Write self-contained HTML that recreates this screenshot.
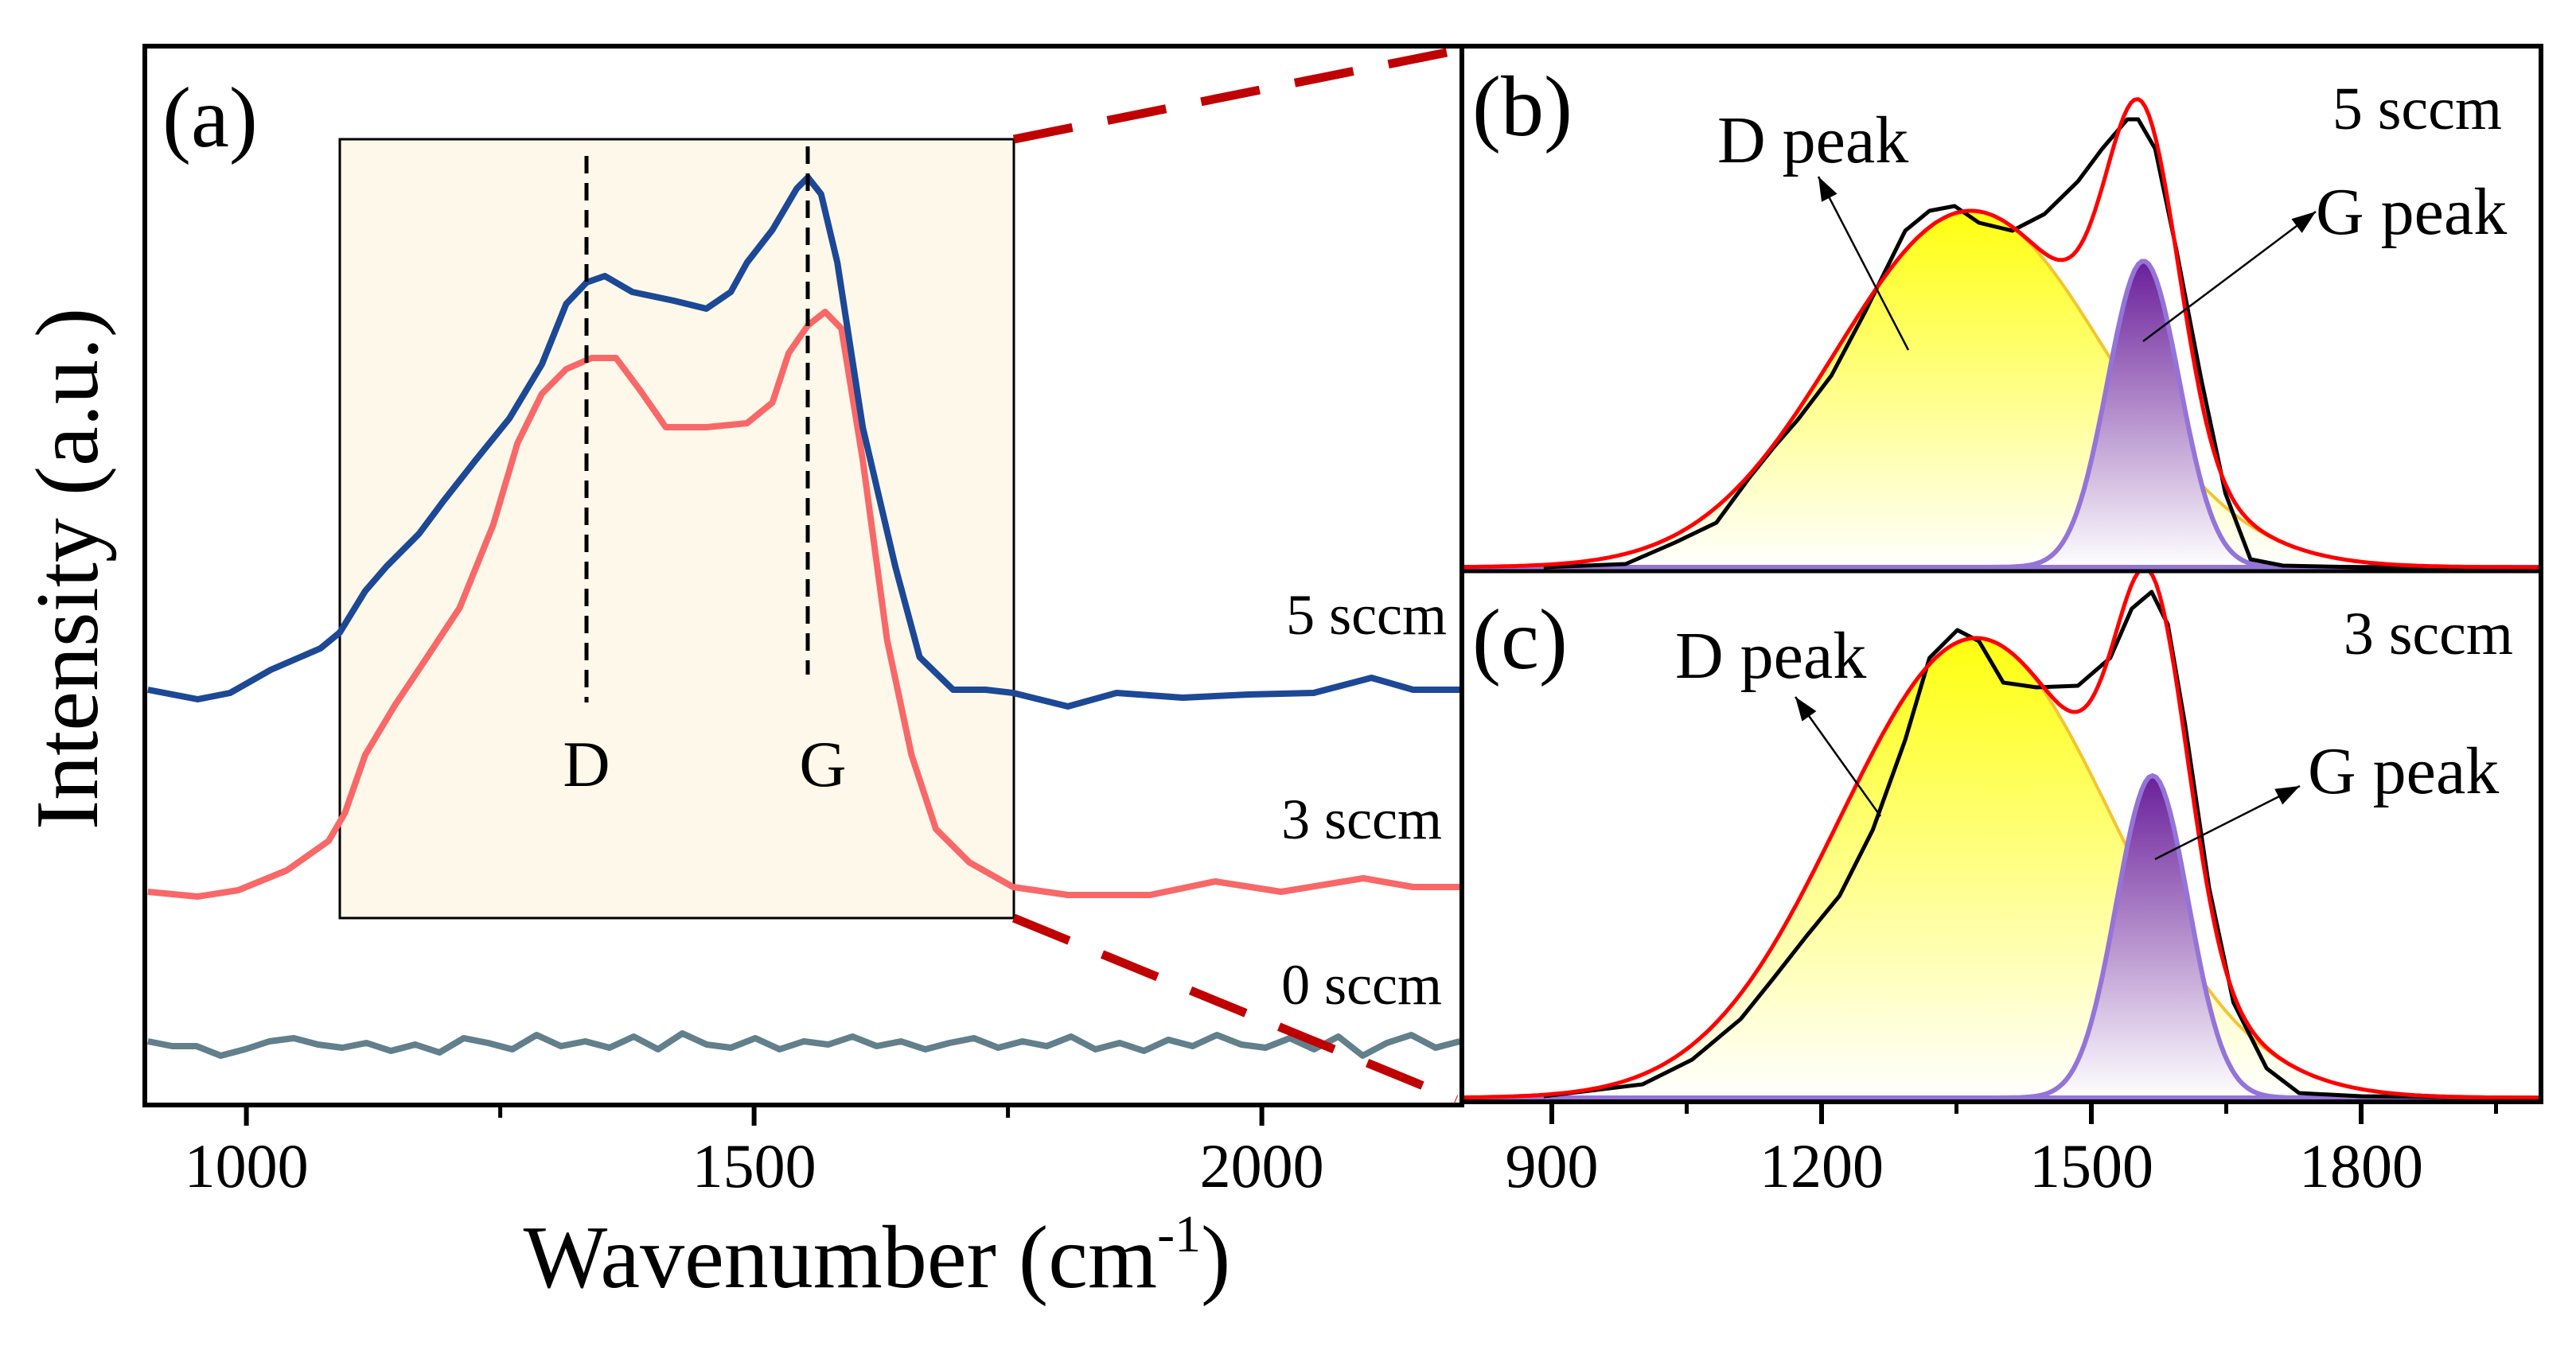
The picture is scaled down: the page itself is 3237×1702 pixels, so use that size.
<!DOCTYPE html>
<html><head><meta charset="utf-8"><style>
html,body{margin:0;padding:0;background:#fff;}
svg{display:block;font-family:"Liberation Serif",serif;}
</style></head><body>
<svg id="chart" width="3237" height="1702" viewBox="0 0 3237 1702" xmlns="http://www.w3.org/2000/svg">
<defs>
<linearGradient id="gy" x1="0" y1="0" x2="0" y2="1"><stop offset="0" stop-color="#ffff10"/><stop offset="1" stop-color="#ffffff"/></linearGradient>
<linearGradient id="gp" x1="0" y1="0" x2="0" y2="1"><stop offset="0" stop-color="#6a1f9a"/><stop offset="1" stop-color="#ffffff"/></linearGradient>
<clipPath id="clipA"><rect x="182" y="58" width="1655" height="1331"/></clipPath>
<clipPath id="clipB"><rect x="1837" y="58" width="1356" height="660"/></clipPath>
<clipPath id="clipC"><rect x="1837" y="718" width="1356" height="667"/></clipPath>
</defs>
<rect x="427" y="175" width="847" height="979" fill="#fdf8ea" stroke="#000" stroke-width="3"/>
<g id="gA" clip-path="url(#clipA)"></g>
<g id="gB" clip-path="url(#clipB)"></g>
<g id="gC" clip-path="url(#clipC)"></g>
<g id="axes"></g>
<g id="labels"></g>
</svg>
<script>
// ---- Panel (a) data ----
const blueX=[903,952,984,1024,1073,1092,1117,1138,1170,1194,1226,1259,1291,1315,1335,1353,1380,1421,1453,1477,1493,1518,1542,1553,1566,1582,1607,1639,1663,1696,1728,1755,1809,1857,1922,1987,2051,2108,2149,2195];
const blueY=[522,510,518,547,574,594,646,677,718,759,811,863,931,1007,1034,1042,1022,1011,1001,1022,1059,1100,1152,1166,1145,1059,852,677,563,522,522,518,501,518,512,516,518,537,522,522];
const redX=[903,952,992,1040,1081,1097,1117,1146,1178,1210,1243,1267,1291,1315,1340,1364,1388,1413,1453,1493,1518,1534,1553,1570,1586,1607,1631,1655,1679,1712,1755,1809,1890,1954,2019,2100,2149,2195];
const redY=[268,262,270,295,332,367,440,502,563,625,729,832,894,925,939,939,898,852,852,857,883,945,980,997,976,811,584,440,347,305,274,264,264,281,268,285,274,274];
const grayY=[80,74,74,62,70,80,84,76,72,78,68,76,66,84,78,70,88,74,80,72,86,70,90,76,72,84,70,80,76,86,74,80,70,78,84,72,80,74,86,70,78,68,82,74,88,76,72,84,70,86,62,78,88,72,80];
// ---- Panel (b) data: 5 sccm ----
const bX=[891,982,1037,1083,1120,1147,1174,1211,1248,1293,1320,1348,1375,1412,1448,1485,1512,1540,1552,1571,1594,1622,1649,1677,1713,1800,1987];
const bY=[0,4,31,56,113,151,186,241,320,423,448,454,433,423,444,485,526,563,563,526,402,237,93,10,2,0,0];
const bPeakCenter=[1366,1558];
const bPeakAmp=[448,385];
const bPeakSigma=[150,40];
// ---- Panel (c) data: 3 sccm ----
const cX=[891,1001,1056,1110,1147,1183,1220,1257,1293,1320,1351,1375,1402,1439,1485,1521,1545,1567,1585,1604,1631,1658,1695,1731,1800,1987];
const cY=[2,17,48,99,151,203,254,337,450,553,588,574,522,516,518,553,615,636,595,471,264,120,37,6,2,0];
const cPeakCenter=[1372,1568];
const cPeakAmp=[578,405];
const cPeakSigma=[152,40];
const ticksA=[1000,1500,2000];
const minorA=[1250,1750];
const ticksB=[900,1200,1500,1800];
const minorB=[1050,1350,1650,1950];

const NS="http://www.w3.org/2000/svg";
function mk(tag,attrs,parent){const e=document.createElementNS(NS,tag);for(const k in attrs)e.setAttribute(k,attrs[k]);parent.appendChild(e);return e;}
const xA=v=>182+(v-900)*1.276;
const yA=v=>1389-v;
const xB=v=>1837+(v-800)*1.13;
const yB=v=>713-v;
const yC=v=>1380-v;
function pathFrom(xs,ys,fx,fy){return xs.map((x,i)=>(i?'L':'M')+fx(x).toFixed(1)+','+fy(ys[i]).toFixed(1)).join('');}
const gA=document.getElementById('gA'),gB=document.getElementById('gB'),gC=document.getElementById('gC');
const ax=document.getElementById('axes');

const grayX=grayY.map((_,i)=>903+i*(2195-903)/(grayY.length-1));
let p=mk('path',{d:pathFrom(grayX,grayY,xA,yA),fill:'none',stroke:'#627f8c','stroke-width':8,'stroke-linejoin':'round'},gA);


p=mk('path',{d:pathFrom(redX,redY,xA,yA),fill:'none',stroke:'#f86868','stroke-width':8,'stroke-linejoin':'round'},gA);


p=mk('path',{d:pathFrom(blueX,blueY,xA,yA),fill:'none',stroke:'#1c4896','stroke-width':8,'stroke-linejoin':'round'},gA);



function gauss(x,c,a,s){return a*Math.exp(-((x-c)*(x-c))/(2*s*s));}
function drawFit(g,fy,xs,ys,cen,amp,sig,prefix){
  const grid=[];for(let x=800;x<=2000;x+=4)grid.push(x);
  const dY=grid.map(x=>gauss(x,cen[0],amp[0],sig[0]));
  const gY=grid.map(x=>gauss(x,cen[1],amp[1],sig[1]));
  const fit=grid.map((x,i)=>dY[i]+gY[i]);
  let e=mk('path',{d:pathFrom(grid,dY,xB,fy)+'L'+xB(2000)+','+fy(0)+'L'+xB(800)+','+fy(0)+'Z',fill:'url(#gy)',stroke:'#f4c430','stroke-width':4},g);
  
  
  e=mk('path',{d:pathFrom(grid,gY,xB,fy)+'Z',fill:'url(#gp)',stroke:'#9474d8','stroke-width':6},g);
  
  
  e=mk('path',{d:pathFrom(xs,ys,xB,fy),fill:'none',stroke:'#000','stroke-width':5,'stroke-linejoin':'round'},g);
  
  
  e=mk('path',{d:pathFrom(grid,fit,xB,fy),fill:'none',stroke:'#ff0000','stroke-width':5,'stroke-linejoin':'round'},g);
  
  
}
drawFit(gB,yB,bX,bY,bPeakCenter,bPeakAmp,bPeakSigma,'panel-b');
drawFit(gC,yC,cX,cY,cPeakCenter,cPeakAmp,cPeakSigma,'panel-c');

let f=mk('rect',{x:182,y:58,width:1655,height:1331,fill:'none',stroke:'#000','stroke-width':6},ax);


f=mk('rect',{x:1837,y:58,width:1356,height:1327,fill:'none',stroke:'#000','stroke-width':6},ax);


f=mk('line',{x1:1837,y1:718,x2:3193,y2:718,stroke:'#000','stroke-width':5},ax);



ticksA.forEach(v=>{
  const t=mk('line',{x1:xA(v),y1:1389,x2:xA(v),y2:1415,stroke:'#000','stroke-width':6},ax);
  
  
  const l=mk('text',{x:xA(v),y:1492,'font-size':78,'text-anchor':'middle'},ax);l.textContent=v;
  
  
});
minorA.forEach(v=>{
  const t=mk('line',{x1:xA(v),y1:1389,x2:xA(v),y2:1405,stroke:'#000','stroke-width':5},ax);
  
  
});
ticksB.forEach(v=>{
  const t=mk('line',{x1:xB(v),y1:1385,x2:xB(v),y2:1413,stroke:'#000','stroke-width':6},ax);
  
  
  const l=mk('text',{x:xB(v),y:1492,'font-size':78,'text-anchor':'middle'},ax);l.textContent=v;
  
  
});
minorB.forEach(v=>{
  const t=mk('line',{x1:xB(v),y1:1385,x2:xB(v),y2:1400,stroke:'#000','stroke-width':5},ax);
  
  
});
</script>
<script>
const L=document.getElementById('labels');
function txt(s,x,y,size,name,anchor,extra){const e=document.createElementNS("http://www.w3.org/2000/svg",'text');e.setAttribute('x',x);e.setAttribute('y',y);e.setAttribute('font-size',size);e.setAttribute('text-anchor',anchor||'start');if(extra)for(const k in extra)e.setAttribute(k,extra[k]);e.textContent=s;L.appendChild(e);


return e;}
function ln(x1,y1,x2,y2,stroke,w,dash,name){const e=document.createElementNS("http://www.w3.org/2000/svg",'line');e.setAttribute('x1',x1);e.setAttribute('y1',y1);e.setAttribute('x2',x2);e.setAttribute('y2',y2);e.setAttribute('stroke',stroke);e.setAttribute('stroke-width',w);if(dash)e.setAttribute('stroke-dasharray',dash);L.appendChild(e);


return e;}
function arrow(x1,y1,x2,y2,name){ln(x1,y1,x2,y2,'#000',2.5,null,name);
 const a=Math.atan2(y2-y1,x2-x1),L2=30,W=11;
 const p=document.createElementNS("http://www.w3.org/2000/svg",'polygon');
 const bx=x2-L2*Math.cos(a),by=y2-L2*Math.sin(a);
 p.setAttribute('points',`${x2},${y2} ${bx+W*Math.sin(a)},${by-W*Math.cos(a)} ${bx-W*Math.sin(a)},${by+W*Math.cos(a)}`);
 p.setAttribute('fill','#000');L.appendChild(p);
 
 }
ln(1274,175,1818,66,'#c00000',11,'75,45','zoom-connector-top');
ln(1274,1154,1830,1382,'#c00000',11,'75,45','zoom-connector-bottom');
ln(737,196,737,883,'#000',5,'22,12','d-peak-marker');
ln(1015,184,1015,848,'#000',5,'22,12','g-peak-marker');
txt('D',737,988,82,'d-label','middle');
txt('G',1034,988,82,'g-label','middle');
txt('(a)',204,184,108,'panel-a-label');
txt('5 sccm',1818,797,72,'label-5-sccm','end');
txt('3 sccm',1812,1054,72,'label-3-sccm','end');
txt('0 sccm',1812,1262,72,'label-0-sccm','end');
txt('(b)',1850,170,108,'panel-b-label');
txt('5 sccm',3144,162,76,'panel-b-sample-label','end');
txt('D peak',2158,204,84,'panel-b-d-peak-label');
txt('G peak',2910,294,84,'panel-b-g-peak-label');
txt('(c)',1850,840,108,'panel-c-label');
txt('3 sccm',3158,822,76,'panel-c-sample-label','end');
txt('D peak',2105,852,84,'panel-c-d-peak-label');
txt('G peak',2900,997,84,'panel-c-g-peak-label');
arrow(2398,440,2285,222,'panel-b-d-arrow');
arrow(2693,429,2910,266,'panel-b-g-arrow');
arrow(2363,1026,2256,876,'panel-c-d-arrow');
arrow(2708,1080,2890,988,'panel-c-g-arrow');
const xt=txt('Wavenumber (cm',1102,1618,112,'x-axis-title','middle');
const sup=document.createElementNS("http://www.w3.org/2000/svg",'tspan');sup.setAttribute('dy','-45');sup.setAttribute('font-size','66');sup.textContent='-1';xt.appendChild(sup);
const cl=document.createElementNS("http://www.w3.org/2000/svg",'tspan');cl.setAttribute('dy','45');cl.textContent=')';xt.appendChild(cl);
txt('Intensity (a.u.)',122,715,112,'y-axis-title','middle',{transform:'rotate(-90 122 715)'});
</script>
</body></html>
